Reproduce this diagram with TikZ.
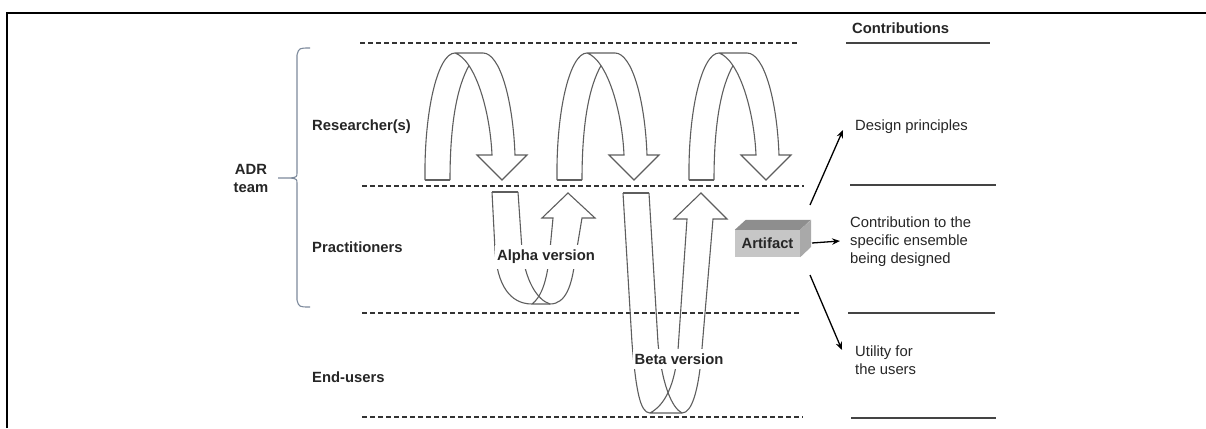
\documentclass[tikz,border=0pt]{standalone}
\usepackage{fontspec}
\setmainfont{Liberation Sans}
\usetikzlibrary{arrows.meta}
\definecolor{arr}{HTML}{5E5E5E}
\definecolor{txt}{HTML}{262626}
\definecolor{dl}{HTML}{333333}
\definecolor{sl}{HTML}{444444}
\definecolor{brk}{HTML}{7D8A9C}
\definecolor{boxfront}{HTML}{C6C6C6}
\definecolor{boxtop}{HTML}{8E8E8E}
\definecolor{boxside}{HTML}{A9A9A9}
\begin{document}
\begin{tikzpicture}[x=1pt,y=-1pt,
  lbl/.style={font=\bfseries\fontsize{14.8}{18}\selectfont, text=txt, inner sep=0pt},
  rtxt/.style={font=\fontsize{14.8}{18}\selectfont, text=txt, align=left, inner sep=0pt, anchor=west},
  dline/.style={draw=dl, line width=1.1pt, dash pattern=on 5pt off 3pt},
  sline/.style={draw=sl, line width=1.1pt},
  band/.style={draw=arr, line width=1.1pt, line join=miter},
  cx/.style={draw=black, line width=1.3pt, -{Stealth[length=8pt,width=6.5pt]}},
  verlbl/.style={font=\bfseries\fontsize{14.8}{18}\selectfont, text=txt, fill=white, inner xsep=2pt, inner ysep=5pt}
]
\useasboundingbox (0,0) rectangle (1206,428);
\fill[white] (0,0) rectangle (1206,428);
% frame
\draw[black, line width=1.5pt] (7,428) -- (7,13) -- (1206,13);

% dashed level lines
\draw[dline] (360,43) -- (798,43);
\draw[dline] (362,186) -- (804,186);
\draw[dline] (362,313) -- (801,313);
\draw[dline] (362,417) -- (803,417);

% solid contribution lines
\draw[sline] (846,43) -- (990,43);
\draw[sline] (850,185) -- (996,185);
\draw[sline] (848,313) -- (995,313);
\draw[sline] (851,418) -- (996,418);

% bracket
\draw[brk, line width=1.1pt] (310,48) .. controls (299,48) .. (297,55) -- (297,172)
   .. controls (297,177) .. (291,178) -- (278,178);
\draw[brk, line width=1.1pt] (291,178) .. controls (297,179) .. (297,184) -- (297,300)
   .. controls (299,307) .. (310,307);

% labels
\node[lbl, align=center] (adr) at (251,178) {ADR\\team};
\node[lbl, anchor=west] (res) at (312,127) {Researcher(s)};
\node[lbl, anchor=west] (pra) at (312,247) {Practitioners};
\node[lbl, anchor=west] (end) at (312,377) {End-users};
\node[lbl, anchor=west] (con) at (852,28) {Contributions};

% big researcher U-turn arrows
\foreach \dx in {0,132,264}{
\begin{scope}[shift={(\dx,0)}]
\draw[band] (425,180) .. controls (424,110) and (438,53) .. (455,53) -- (483,53)
  .. controls (500,53) and (513,100) .. (515,155) -- (527,155) -- (502,180) -- (477,155)
  -- (492,155) .. controls (490,110) and (475,60) .. (455,53);
\draw[band] (425,180) -- (450,180);
\draw[band] (450,180) .. controls (450,120) and (458,85) .. (469,65.6);
\end{scope}
}

% alpha version loop
\draw[band] (492,192) -- (518,192);
\draw[band] (492,192) -- (495,250) .. controls (497,285) and (510,304) .. (532,304) -- (550,304)
  .. controls (566,304) and (572,285) .. (575,260) -- (582,218) -- (595,218) -- (568,193)
  -- (542,218) -- (553,218) -- (549,260) .. controls (546,285) and (540,298) .. (532,304);
\draw[band] (518,192) -- (522,250) .. controls (525,280) and (537,300) .. (550,304);
\node[verlbl] (alpha) at (546,257) {Alpha version};

% beta version loop
\draw[band] (623,193) -- (649,193);
\draw[band] (623,193) -- (632,343) .. controls (636,390) and (640,413) .. (650,413) -- (682,413)
  .. controls (692,413) and (698,390) .. (701,360) -- (713,219) -- (727,219) -- (701,193)
  -- (674,219) -- (687,219) -- (678,350) .. controls (675,385) and (665,405) .. (650,413);
\draw[band] (649,193) -- (658,343) .. controls (662,385) and (672,408) .. (682,413);
\node[verlbl] (beta) at (679,359) {Beta version};

% artifact box
\node[lbl, fill=boxfront, minimum width=65pt, minimum height=27pt, inner sep=0pt] (art) at (767.5,243.5) {Artifact};
\fill[boxtop] (art.north west) -- ++(11,-10) -- ++(65,0) -- (art.north east) -- cycle;
\fill[boxside] (art.north east) -- ++(11,-10) -- ++(0,27) -- (art.south east) -- cycle;

% contributions texts
\node[rtxt] (dp) at (855,127) {Design principles};
\node[rtxt] (cs) at (850,242) {Contribution to the\\specific ensemble\\being designed};
\node[rtxt] (ut) at (855,360) {Utility for\\the users};

% connectors from artifact
\coordinate (s1) at (810,205);
\coordinate (e1) at (843,130);
\coordinate (s2) at (812,243);
\coordinate (e2) at (840,241);
\coordinate (s3) at (810,275);
\coordinate (e3) at (842,350);
\draw[cx] (s1) -- (e1);
\draw[cx] (s2) -- (e2);
\draw[cx] (s3) -- (e3);
\end{tikzpicture}
\end{document}
